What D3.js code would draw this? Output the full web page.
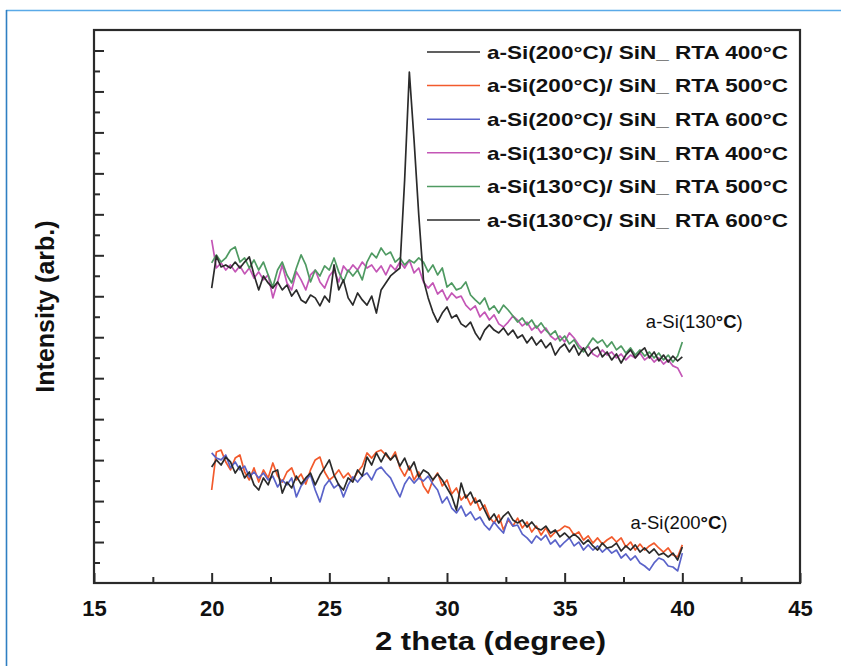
<!DOCTYPE html>
<html><head><meta charset="utf-8">
<script src="https://cdn.jsdelivr.net/npm/d3@7"></script>
<style>
  html, body { margin: 0; padding: 0; background: #fff; }
  svg { display: block; }
  text { font-family: "Liberation Sans", Arial, Helvetica, sans-serif; fill: #111; }
</style>
</head><body>
<svg id="chart" width="841" height="666"></svg>
<script>
// XRD scans: 2θ from 20° to 40° in 0.2° steps
const scanStart = 20, scanStep = 0.2;

// a-Si deposited at 200 °C on SiN, after RTA
const si200_rta400 = [566,601,576,615,591,537,571,513,542,479,454,513,479,542,552,439,493,464,522,483,513,537,479,527,562,601,527,479,454,513,493,552,522,615,576,635,591,635,601,625,571,610,552,591,518,552,537,503,532,503,464,425,356,488,415,444,391,405,356,308,337,293,327,347,308,293,308,273,298,269,259,278,244,259,225,244,220,239,220,190,210,181,161,195,171,176,195,156,181,161,186,151,171,146,166,137,146,127,146,112,176];
const si200_rta500 = [454,640,649,591,552,610,625,542,503,562,493,552,513,586,522,493,542,562,503,532,483,552,601,615,542,503,522,552,513,537,503,542,571,635,610,640,649,625,601,640,562,522,571,503,542,474,439,503,537,474,503,435,464,405,430,381,415,356,381,322,293,332,259,308,278,317,269,298,249,278,234,269,225,249,259,278,269,234,249,210,230,195,220,190,210,225,200,220,176,200,161,190,161,181,195,171,151,171,137,127,186];
const si200_rta600 = [635,610,601,625,562,591,552,571,518,542,513,537,503,522,469,503,479,513,420,474,503,527,454,396,474,503,464,483,420,479,518,493,522,537,503,552,566,537,513,464,420,483,518,488,513,498,522,483,454,391,420,366,342,376,327,347,308,322,283,259,298,269,244,317,278,283,239,220,195,230,210,234,190,210,176,200,220,181,200,161,186,161,181,151,171,146,161,122,142,112,132,98,83,63,98,122,112,83,78,59,146];

// a-Si deposited at 130 °C on SiN, after RTA
const si130_rta400 = [1675,1538,1563,1528,1553,1519,1548,1509,1538,1489,1519,1480,1504,1392,1470,1553,1465,1431,1519,1480,1431,1504,1528,1470,1440,1499,1528,1470,1548,1519,1553,1528,1567,1538,1553,1519,1548,1504,1553,1528,1567,1538,1577,1514,1538,1470,1440,1465,1411,1431,1382,1416,1392,1401,1357,1333,1353,1299,1323,1284,1309,1265,1250,1274,1304,1284,1255,1274,1235,1255,1221,1245,1206,1187,1206,1177,1221,1196,1162,1138,1157,1118,1104,1138,1113,1128,1099,1118,1089,1113,1099,1123,1089,1108,1079,1099,1069,1089,1060,1050,1006];
const si130_rta500 = [1563,1602,1567,1587,1626,1641,1567,1587,1538,1577,1528,1567,1504,1445,1528,1567,1504,1465,1538,1602,1553,1470,1528,1499,1548,1528,1587,1519,1470,1528,1499,1528,1480,1567,1611,1587,1636,1602,1616,1567,1587,1553,1577,1563,1587,1567,1519,1553,1504,1538,1445,1465,1431,1440,1470,1406,1382,1362,1392,1333,1353,1318,1357,1333,1304,1274,1294,1260,1284,1245,1270,1235,1211,1231,1182,1206,1167,1187,1148,1128,1162,1196,1172,1187,1152,1177,1138,1157,1123,1148,1113,1138,1108,1128,1099,1123,1089,1113,1079,1108,1177];
const si130_rta600 = [1440,1597,1543,1553,1538,1567,1538,1567,1592,1504,1431,1499,1465,1440,1470,1431,1455,1401,1431,1382,1367,1406,1392,1353,1401,1372,1553,1431,1480,1392,1357,1416,1382,1357,1401,1318,1431,1465,1499,1519,1538,1968,2495,2163,1797,1480,1392,1323,1274,1318,1348,1294,1309,1265,1250,1274,1221,1187,1235,1260,1235,1221,1245,1211,1235,1196,1211,1172,1201,1162,1187,1148,1172,1113,1148,1167,1128,1162,1113,1148,1108,1138,1152,1104,1128,1089,1118,1074,1113,1138,1099,1128,1148,1099,1128,1084,1113,1079,1108,1084,1104];

const seriesLabels = [
  "a-Si(200\u00B0C)/ SiN_ RTA 400\u00B0C",
  "a-Si(200\u00B0C)/ SiN_ RTA 500\u00B0C",
  "a-Si(200\u00B0C)/ SiN_ RTA 600\u00B0C",
  "a-Si(130\u00B0C)/ SiN_ RTA 400\u00B0C",
  "a-Si(130\u00B0C)/ SiN_ RTA 500\u00B0C",
  "a-Si(130\u00B0C)/ SiN_ RTA 600\u00B0C"
];
const seriesValues = [si200_rta400, si200_rta500, si200_rta600, si130_rta400, si130_rta500, si130_rta600];
const seriesColors = ["#2b2b2b", "#f25a2c", "#5a63c9", "#c456b6", "#4f9a62", "#2b2b2b"];
// drawing order: coloured traces first, black traces on top of each group
const drawOrder = [1, 2, 0, 3, 4, 5];

const groupLabels = [
  { pre: "a-Si(130", unit: "\u00B0C", post: ")", x: 38.45, y: 1245 },
  { pre: "a-Si(200", unit: "\u00B0C", post: ")", x: 37.8, y: 265 }
];

const xDomain = [15, 45];
const yDomain = [0, 2700];
const xMajorTicks = [15, 20, 25, 30, 35, 40, 45];
const xMinorTicks = [17.5, 22.5, 27.5, 32.5, 37.5, 42.5];
const yMajorTicks = d3.range(200, 2700, 200);
const yMinorTicks = d3.range(100, 2700, 200);

const svg = d3.select("#chart");
const plot = { left: 94, right: 800, top: 30, bottom: 583 };

const x = d3.scaleLinear().domain(xDomain).range([plot.left, plot.right]);
const y = d3.scaleLinear().domain(yDomain).range([plot.bottom, plot.top]);

// page border
svg.append("line").attr("x1", 6).attr("x2", 841).attr("y1", 10.5).attr("y2", 10.5)
  .attr("stroke", "#5aaae8").attr("stroke-width", 1.6);
svg.append("line").attr("x1", 6.5).attr("x2", 6.5).attr("y1", 10).attr("y2", 666)
  .attr("stroke", "#2f7fc2").attr("stroke-width", 1.6);

// traces
const line = d3.line()
  .x((d, i) => x(scanStart + i * scanStep))
  .y(d => y(d));

const traces = svg.append("g").attr("fill", "none").attr("stroke-linejoin", "round");
drawOrder.forEach(k => {
  traces.append("path")
    .datum(seriesValues[k])
    .attr("d", line)
    .attr("stroke", seriesColors[k])
    .attr("stroke-width", 1.7);
});

// axes: ticks point inwards
const axisColor = "#2a2a2a";
const xMajor = d3.axisBottom(x).tickValues(xMajorTicks).tickSize(-10).tickPadding(17).tickFormat(d3.format("d"));
const xMinor = d3.axisBottom(x).tickValues(xMinorTicks).tickSize(-6).tickFormat("");
const yMajor = d3.axisLeft(y).tickValues(yMajorTicks).tickSize(-10).tickFormat("");
const yMinor = d3.axisLeft(y).tickValues(yMinorTicks).tickSize(-6).tickFormat("");

function styleAxis(g) {
  g.select(".domain").remove();
  g.selectAll(".tick line").attr("stroke", axisColor).attr("stroke-width", 2);
}

svg.append("g").attr("transform", `translate(0,${plot.bottom})`).call(xMajor).call(styleAxis)
  .selectAll(".tick text")
  .attr("font-size", 22).attr("font-weight", "bold")
  .attr("font-family", '"Liberation Sans", Arial, sans-serif').attr("fill", "#111");
svg.append("g").attr("transform", `translate(0,${plot.bottom})`).call(xMinor).call(styleAxis);
svg.append("g").attr("transform", `translate(${plot.left},0)`).call(yMajor).call(styleAxis);
svg.append("g").attr("transform", `translate(${plot.left},0)`).call(yMinor).call(styleAxis);

// frame
svg.append("rect")
  .attr("x", plot.left).attr("y", plot.top)
  .attr("width", plot.right - plot.left).attr("height", plot.bottom - plot.top)
  .attr("fill", "none").attr("stroke", axisColor).attr("stroke-width", 2.2);

// axis titles
svg.append("text")
  .attr("x", 375).attr("y", 650)
  .attr("font-size", 25).attr("font-weight", "bold")
  .attr("textLength", 231).attr("lengthAdjust", "spacingAndGlyphs")
  .text("2 theta (degree)");
svg.append("text")
  .attr("transform", `translate(54,${(plot.top + plot.bottom) / 2}) rotate(-90)`)
  .attr("text-anchor", "middle").attr("font-size", 25).attr("font-weight", "bold")
  .text("Intensity (arb.)");

// legend
const legend = svg.append("g").attr("transform", "translate(427,52)");
seriesLabels.forEach((label, i) => {
  const row = legend.append("g").attr("transform", `translate(0,${i * 33.6})`);
  row.append("line").attr("x1", 0).attr("x2", 53).attr("y1", 0).attr("y2", 0)
    .attr("stroke", seriesColors[i]).attr("stroke-width", 1.5);
  row.append("text").attr("x", 60).attr("y", 0).attr("dy", "0.36em")
    .attr("font-size", 19).attr("font-weight", "bold")
    .attr("textLength", 301).attr("lengthAdjust", "spacingAndGlyphs")
    .text(label);
});

// group annotations
groupLabels.forEach(g => {
  const t = svg.append("text").attr("x", x(g.x)).attr("y", y(g.y)).attr("font-size", 18.5);
  t.append("tspan").text(g.pre);
  t.append("tspan").attr("font-weight", "bold").text(g.unit);
  t.append("tspan").text(g.post);
});
</script>
</body></html>
